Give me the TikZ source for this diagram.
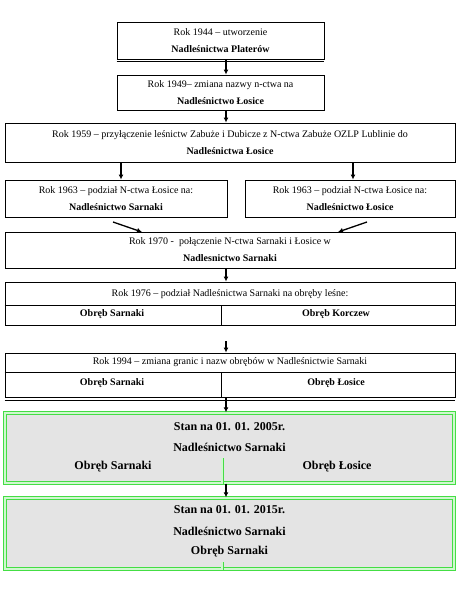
\documentclass[tikz,border=0pt]{standalone}
\usepackage{fontspec}
\setmainfont{Liberation Serif}
\usetikzlibrary{arrows.meta, positioning, calc}
\definecolor{boxgreen}{RGB}{68,222,68}
\definecolor{boxgray}{RGB}{228,228,228}

\begin{document}
\begin{tikzpicture}[x=1pt, y=-1pt, line width=0.9pt]
    \tikzset{
        stepbox/.style={draw, inner sep=0pt, align=center, font=\fontsize{10}{12}\selectfont},
        tablebox/.style={draw, inner sep=0pt, minimum width=450pt},
        statebox/.style={draw=boxgreen, double=boxgreen!25!white, double distance=1.1pt, line width=1.4pt, fill=boxgray, inner sep=0pt, minimum width=449pt},
        divline/.style={draw=boxgreen, double=boxgreen!25!white, double distance=1.2pt, line width=0.9pt},
        txt/.style={inner sep=0pt, font=\fontsize{10}{12}\selectfont},
        bigtxt/.style={inner sep=0pt, font=\fontsize{12}{14}\selectfont\bfseries},
        arr/.style={-{Latex[length=5pt, width=5pt]}, line width=1.3pt}
    }
    \useasboundingbox (0,0) rectangle (457,614);

    % punkty pomocnicze
    \coordinate (axis) at (226,0);
    \coordinate (axisL) at (121,0);
    \coordinate (axisR) at (353,0);
    \coordinate (div) at (221,0);
    \coordinate (divG) at (222,0);

    % historia zmian
    \node[stepbox, minimum width=207pt, minimum height=37pt] (r1944) at (220.5,40.5) {Rok 1944 – utworzenie\\[5pt]\textbf{Nadleśnictwa Platerów}};
    \draw ([yshift=-2pt]r1944.south west) -- ([yshift=-2pt]r1944.south east);
    \node[stepbox, minimum width=207pt, minimum height=35pt] (r1949) at (220.5,92.5) {Rok 1949– zmiana nazwy n-ctwa na\\[5pt]\textbf{Nadleśnictwo Łosice}};
    \node[stepbox, minimum width=450pt, minimum height=39pt] (r1959) at (230,142.5) {Rok 1959 – przyłączenie leśnictw Zabuże i Dubicze z N-ctwa Zabuże OZLP Lublinie do\\[5pt]\textbf{Nadleśnictwa Łosice}};
    \node[stepbox, minimum width=222pt, minimum height=37pt] (r1963a) at (116,198.5) {Rok 1963 – podział N-ctwa Łosice na:\\[5pt]\textbf{Nadleśnictwo Sarnaki}};
    \node[stepbox, minimum width=210pt, minimum height=37pt] (r1963b) at (350,198.5) {Rok 1963 – podział N-ctwa Łosice na:\\[5pt]\textbf{Nadleśnictwo Łosice}};
    \node[stepbox, minimum width=450pt, minimum height=36pt] (r1970) at (230,250) {Rok 1970 -~ połączenie N-ctwa Sarnaki i Łosice w\\[5pt]\textbf{Nadlesnictwo Sarnaki}};

    % obreby
    \node[tablebox, minimum height=43pt] (r1976) at (230,303.5) {};
    \coordinate (mid1976) at (0,305);
    \draw (r1976.west |- mid1976) -- (r1976.east |- mid1976);
    \draw (div |- mid1976) -- (div |- r1976.south);
    \node[txt] (t1976) at (230,294) {Rok 1976 – podział Nadleśnictwa Sarnaki na obręby leśne:};
    \node[txt, font=\fontsize{10}{12}\selectfont\bfseries] (s1976) at (112,314) {Obręb Sarnaki};
    \node[txt, font=\fontsize{10}{12}\selectfont\bfseries] (k1976) at (336,314) {Obręb Korczew};

    \node[tablebox, minimum height=44pt] (r1994) at (230,375) {};
    \coordinate (mid1994) at (0,372);
    \draw ([yshift=-2.5pt]r1994.south west) -- ([yshift=-2.5pt]r1994.south east);
    \draw (r1994.west |- mid1994) -- (r1994.east |- mid1994);
    \draw (div |- mid1994) -- (div |- r1994.south);
    \node[txt] (t1994) at (230,362) {Rok 1994 – zmiana granic i nazw obrębów w Nadleśnictwie Sarnaki};
    \node[txt, font=\fontsize{10}{12}\selectfont\bfseries] (s1994) at (112,383) {Obręb Sarnaki};
    \node[txt, font=\fontsize{10}{12}\selectfont\bfseries] (l1994) at (336,383) {Obręb Łosice};

    % stan aktualny
    \node[statebox, minimum height=70pt] (r2005) at (229.5,448) {};
    \coordinate (cut2005) at (0,458);
    \draw[divline] (divG |- cut2005) -- (divG |- r2005.south);
    \node[bigtxt] (t2005) at (229.5,427) {Stan na 01. 01. 2005r.};
    \node[bigtxt] (n2005) at (229.5,447) {Nadleśnictwo Sarnaki};
    \node[bigtxt] (s2005) at (113,467) {Obręb Sarnaki};
    \node[bigtxt] (l2005) at (337,467) {Obręb Łosice};

    \node[statebox, minimum height=71pt] (r2015) at (229.5,533.5) {};
    \coordinate (cut2015) at (0,562);
    \draw[divline] (divG |- cut2015) -- (divG |- r2015.south);
    \node[bigtxt] (t2015) at (229.5,510) {Stan na 01. 01. 2015r.};
    \node[bigtxt] (n2015) at (229.5,531) {Nadleśnictwo Sarnaki};
    \node[bigtxt] (s2015) at (229.5,552) {Obręb Sarnaki};

    % strzalki
    \coordinate (from1963a) at (113,222);
    \coordinate (to1970a) at (142,232);
    \coordinate (from1963b) at (367,222);
    \coordinate (to1970b) at (338,232);
    \coordinate (from1976) at (226,341);
    \draw[arr] (r1944.south -| axis) -- (r1949.north -| axis);
    \draw[arr] (r1949.south -| axis) -- (r1959.north -| axis);
    \draw[arr] (r1959.south -| axisL) -- (r1963a.north -| axisL);
    \draw[arr] (r1959.south -| axisR) -- (r1963b.north -| axisR);
    \draw[arr] (from1963a) -- (to1970a);
    \draw[arr] (from1963b) -- (to1970b);
    \draw[arr] (r1970.south -| axis) -- (r1976.north -| axis);
    \draw[arr] (from1976) -- (r1994.north -| axis);
    \draw[arr] (r1994.south -| axis) -- (r2005.north -| axis);
    \draw[arr] (r2005.south -| axis) -- (r2015.north -| axis);
\end{tikzpicture}
\end{document}
